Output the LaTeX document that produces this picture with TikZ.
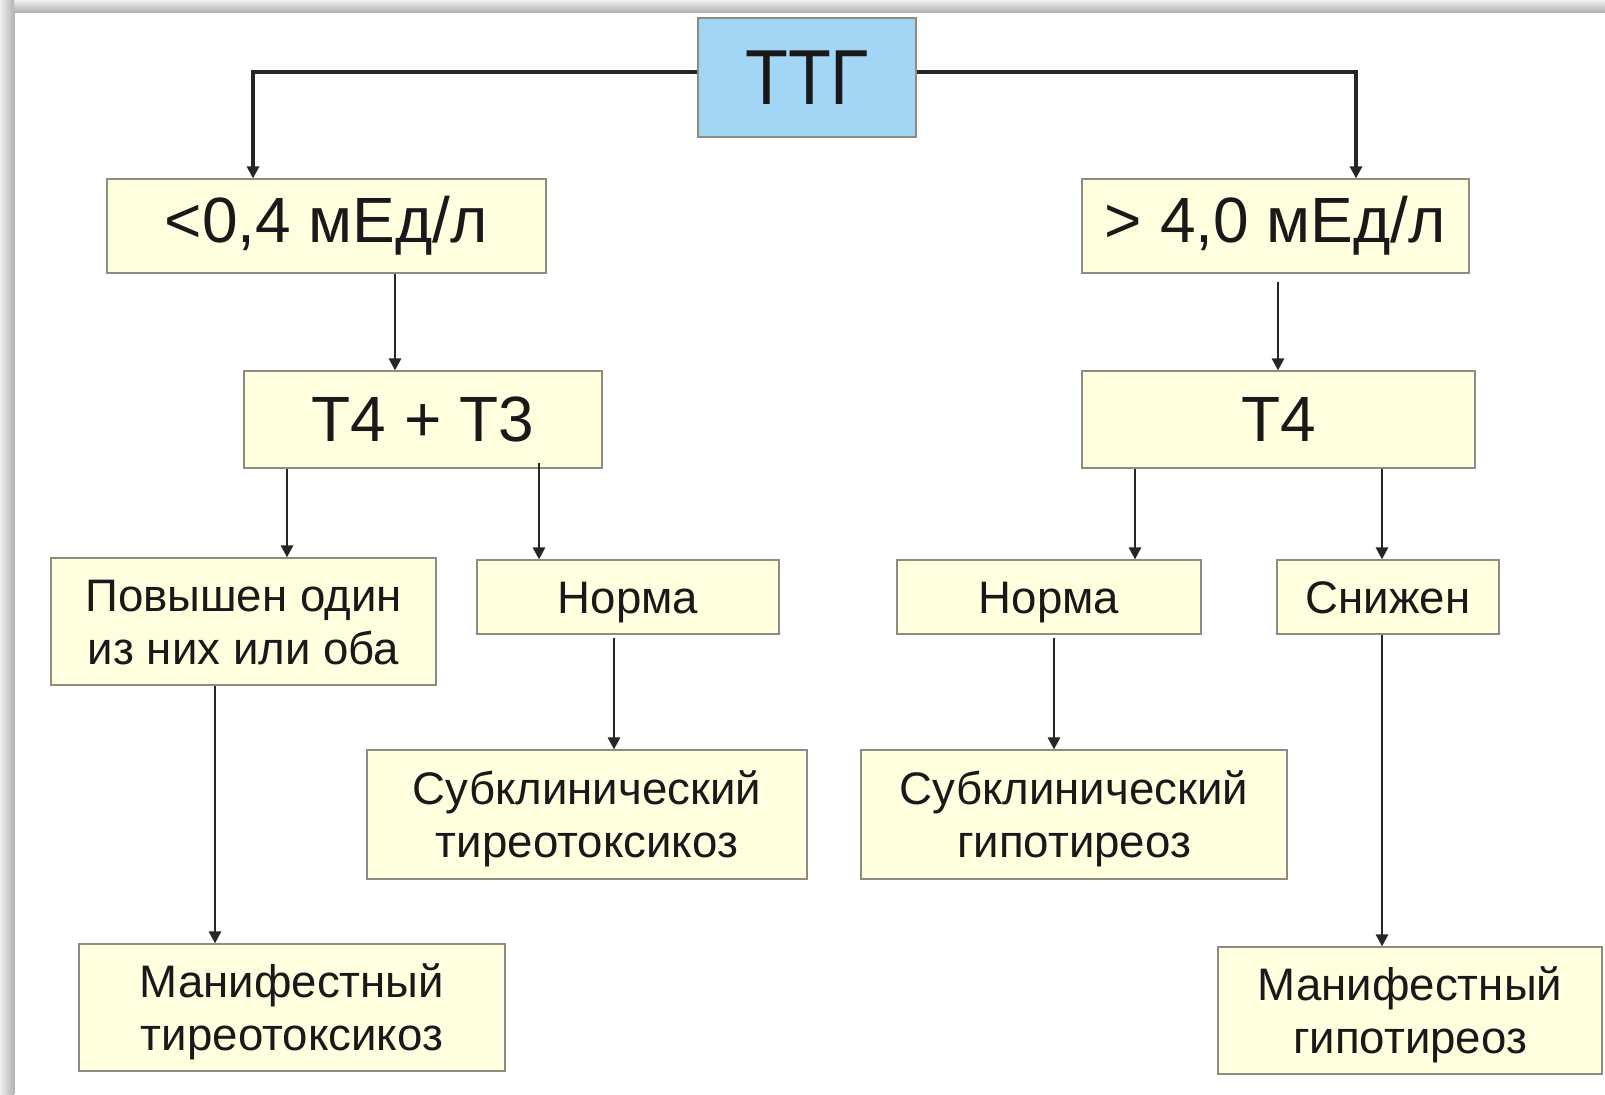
\documentclass[tikz,border=0pt]{standalone}
\usepackage{fontspec}
\setmainfont{Liberation Sans}
\usetikzlibrary{arrows.meta}
\definecolor{boxfill}{HTML}{FFFFDF}
\definecolor{boxline}{HTML}{8C8C80}
\definecolor{topfill}{HTML}{A3D6F4}
\newcommand{\twoline}[2]{\rule{0pt}{22pt}#1\\#2\rule[-6pt]{0pt}{6pt}}
\tikzset{
  box/.style={draw=boxline, line width=0.6pt, fill=boxfill, inner sep=0pt, align=center, text=black!90},
  big/.style={font=\fontsize{32}{38}\selectfont},
  small/.style={font=\fontsize{22.8}{26.5}\selectfont},
  one/.style={small, text height=16.4pt, text depth=0pt},
  two/.style={small},
  arr/.style={draw=black!85, line width=1.4pt, -{Triangle[length=6pt,width=6pt]}},
}
\begin{document}
\begin{tikzpicture}[x=0.5pt,y=-0.5pt]
\useasboundingbox (0,0) rectangle (1605,1094);
\fill[white] (0,0) rectangle (1605,1094);
\shade[top color=gray!12, bottom color=gray!60] (0,0) rectangle (1605,12);
\shade[left color=gray!12, right color=gray!60] (0,0) rectangle (14,1094);
\fill[gray!60] (14,12) rectangle (15,1094);

\node[box, fill=topfill, minimum width=109pt, minimum height=59.5pt, font=\fontsize{39}{42}\selectfont] (ttg) at (807,77.5) {\scalebox{0.9}[1]{ТТГ}};
\node[box, big, minimum width=219.5pt, minimum height=47pt] (lo) at (326.5,226) {<0,4 мЕд/л};
\node[box, big, minimum width=193.5pt, minimum height=47pt] (hi) at (1275.5,226) {> 4,0 мЕд/л};
\node[box, big, minimum width=179pt, minimum height=48.5pt] (t43) at (423,419.5) {T4 + T3};
\node[box, big, minimum width=196.5pt, minimum height=48.5pt] (t4) at (1278.5,419.5) {T4};
\node[box, two, minimum width=192.5pt, minimum height=63.5pt] (pov) at (243.5,621.5) {\twoline{Повышен один}{из них или оба}};
\node[box, one, minimum width=151pt, minimum height=37pt] (norm1) at (628,597) {Норма};
\node[box, one, minimum width=152pt, minimum height=37pt] (norm2) at (1049,597) {Норма};
\node[box, one, minimum width=111pt, minimum height=37pt] (sniz) at (1388,597) {Снижен};
\node[box, two, minimum width=220pt, minimum height=64.5pt] (subt) at (587,814.5) {\twoline{Субклинический}{тиреотоксикоз}};
\node[box, two, minimum width=213pt, minimum height=64.5pt] (subg) at (1074,814.5) {\twoline{Субклинический}{гипотиреоз}};
\node[box, two, minimum width=213pt, minimum height=63.5pt] (mant) at (292,1007.5) {\twoline{Манифестный}{тиреотоксикоз}};
\node[box, two, minimum width=192pt, minimum height=63.5pt] (mang) at (1410,1010.5) {\twoline{Манифестный}{гипотиреоз}};

\coordinate (cL) at (253,72);
\coordinate (cR) at (1356,72);
\coordinate (x1) at (395,0);
\coordinate (x2) at (1278,0);
\coordinate (x3) at (287,0);
\coordinate (x4) at (539,0);
\coordinate (x5) at (215,0);
\coordinate (x6) at (614,0);
\coordinate (x7) at (1135,0);
\coordinate (x8) at (1382,0);
\coordinate (x9) at (1054,0);

\draw[arr, line width=1.9pt] (cL -| ttg.west) -- (cL) -- (lo.north -| cL);
\draw[arr, line width=1.9pt] (cR -| ttg.east) -- (cR) -- (hi.north -| cR);
\draw[arr] (lo.south -| x1) -- (t43.north -| x1);
\draw[arr, shorten <=4pt] (hi.south -| x2) -- (t4.north -| x2);
\draw[arr] (t43.south -| x3) -- (pov.north -| x3);
\draw[arr, shorten <=-3pt] (t43.south -| x4) -- (norm1.north -| x4);
\draw[arr] (pov.south -| x5) -- (mant.north -| x5);
\draw[arr, shorten <=1.5pt] (norm1.south -| x6) -- (subt.north -| x6);
\draw[arr] (t4.south -| x7) -- (norm2.north -| x7);
\draw[arr] (t4.south -| x8) -- (sniz.north -| x8);
\draw[arr, shorten <=1.5pt] (norm2.south -| x9) -- (subg.north -| x9);
\draw[arr] (sniz.south -| x8) -- (mang.north -| x8);
\end{tikzpicture}
\end{document}
